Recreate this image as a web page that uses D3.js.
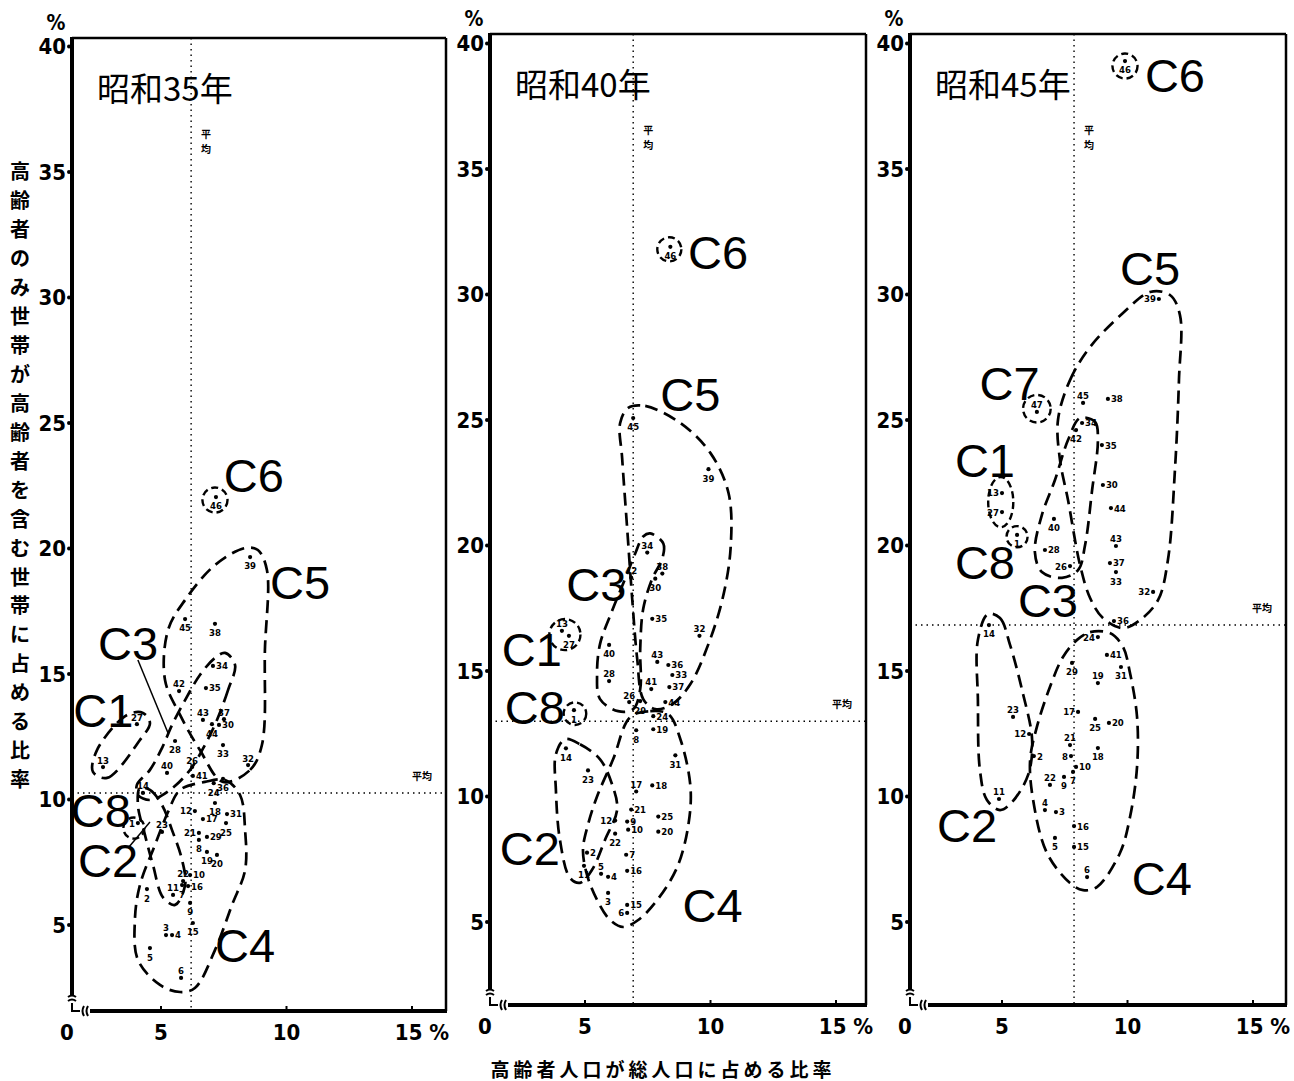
<!DOCTYPE html>
<html>
<head>
<meta charset="utf-8">
<script src="https://cdn.jsdelivr.net/npm/d3@7"></script>
<style>
  body { margin: 0; background: #fff; }
</style>
</head>
<body>
<svg id="chart" width="1294" height="1081"></svg>
<script>
// ---- data ----
const panelTitles = ["昭和35年", "昭和40年", "昭和45年"];
const avgX = [6.2, 6.92, 7.87];
const avgY = [10.26, 13.0, 16.83];
const yTicks = [5, 10, 15, 20, 25, 30, 35, 40];
const xTicks = [5, 10, 15];
const yTitle = "高齢者のみ世帯が高齢者を含む世帯に占める比率";
const xTitle = "高齢者人口が総人口に占める比率";

// [prefecture no., share of elderly in population %, share of elderly-only households %]
const pts1960 = [
  [1,4.08,9.06],[2,4.44,6.43],[3,5.2,4.6],[4,5.44,4.6],[5,4.56,4.08],[6,5.8,2.89],
  [7,5.84,6.59],[8,6.51,8.39],[9,6.16,5.88],[10,6.16,6.99],[11,5.48,6.2],[12,6.35,9.54],
  [13,2.69,11.29],[14,4.28,10.26],[15,6.27,5.08],[16,6.08,6.55],[17,6.67,9.22],[18,7.15,9.86],
  [19,6.83,7.91],[20,7.23,7.79],[21,6.51,8.67],[22,5.88,6.75],[23,5.04,8.71],[24,7.1,10.65],
  [25,7.59,9.06],[26,6.24,11.29],[27,4.04,13.0],[28,5.56,12.33],[29,6.83,8.51],[30,7.31,12.97],
  [31,7.63,9.42],[32,8.47,11.37],[33,7.47,12.17],[34,7.07,15.32],[35,6.79,14.44],[36,7.47,10.82],
  [37,7.51,13.2],[38,7.15,17.0],[39,8.55,19.66],[40,5.24,11.06],[41,6.27,10.94],[42,5.72,14.32],
  [43,6.67,13.17],[44,7.03,13.0],[45,5.96,17.19],[46,7.19,22.05]
];
const pts1965 = [
  [1,4.56,13.44],[2,5.08,7.76],[3,5.92,6.16],[4,5.92,6.8],[5,5.64,6.92],[6,6.68,5.36],
  [7,6.64,7.68],[8,7.04,12.64],[9,6.68,9.0],[10,6.72,8.68],[11,4.96,7.24],[12,6.2,9.04],
  [13,4.08,16.6],[14,4.24,11.92],[15,6.68,5.68],[16,6.68,7.04],[17,7.04,10.2],[18,7.68,10.44],
  [19,7.72,12.68],[20,7.92,8.6],[21,6.84,9.48],[22,6.2,8.52],[23,5.12,11.04],[24,7.72,13.2],
  [25,7.92,9.2],[26,6.76,13.76],[27,4.36,16.4],[28,5.96,14.6],[29,7.2,13.8],[30,7.8,18.68],
  [31,8.6,11.64],[32,9.56,16.4],[33,8.48,14.84],[34,7.48,19.72],[35,7.68,17.08],[36,8.32,15.24],
  [37,8.36,14.36],[38,8.08,18.88],[39,9.92,23.04],[40,5.96,16.04],[41,7.64,14.28],[42,6.84,18.72],
  [43,7.88,15.36],[44,8.2,13.76],[45,6.92,25.08],[46,8.4,31.9]
];
const pts1970 = [
  [1,5.6,20.42],[2,6.27,11.61],[3,7.15,9.38],[4,6.71,9.46],[5,7.11,8.35],[6,8.39,6.79],
  [7,7.83,10.98],[8,7.75,11.61],[9,7.47,10.78],[10,7.95,11.18],[11,4.88,9.9],[12,6.08,12.49],
  [13,5.0,22.09],[14,4.48,16.83],[15,7.87,7.99],[16,7.87,8.82],[17,8.03,13.37],[18,8.82,11.93],
  [19,8.82,14.52],[20,9.26,12.93],[21,7.71,12.05],[22,6.91,10.46],[23,5.44,13.17],[24,8.82,16.35],
  [25,8.71,13.09],[26,7.71,19.18],[27,5.0,21.33],[28,6.71,19.82],[29,7.79,15.32],[30,9.02,22.41],
  [31,9.74,15.16],[32,11.02,18.15],[33,9.54,18.94],[34,8.19,24.88],[35,8.98,24.0],[36,9.46,16.99],
  [37,9.3,19.3],[38,9.22,25.84],[39,11.25,29.82],[40,7.07,21.06],[41,9.18,15.64],[42,7.95,24.6],
  [43,9.54,19.98],[44,9.34,21.49],[45,8.23,25.68],[46,9.9,39.3],[47,6.39,25.32]
];

// cluster outlines traced in data units
const hulls1960 = [
  [[2.29,11.10],[2.85,10.86],[4.16,12.37],[4.56,13.05],[4.28,13.45],[3.65,13.37],[2.45,11.97]],
  [[4.16,10.46],[4.56,10.38],[5.04,9.78],[5.44,8.78],[5.84,7.59],[5.96,6.59],[5.56,5.8],[5.08,6.1],[4.68,7.39],[4.36,8.59],[4.08,9.78]],
  [[7.95,15.36],[7.67,14.36],[7.23,13.17],[6.75,12.17],[6.16,11.18],[5.36,10.38],[4.56,9.98],[4.08,10.18],[4.04,10.58],[4.56,11.18],[5.04,12.05],[5.44,12.97],[5.96,13.96],[6.55,14.96],[7.15,15.64],[7.55,15.84]],
  [[5.76,10.38],[6.75,10.70],[7.55,10.78],[8.15,10.18],[8.35,8.78],[8.35,7.19],[7.83,5.80],[7.15,4.0],[6.35,2.49],[5.76,2.33],[4.96,2.61],[4.08,3.61],[3.96,5.20],[4.16,6.59],[4.76,8.19],[5.28,9.50]],
  [[7.47,10.70],[8.55,11.18],[9.02,12.17],[9.14,15.96],[9.22,19.14],[8.86,19.94],[8.35,20.02],[7.15,19.34],[5.96,17.95],[5.28,16.75],[5.16,14.76],[5.76,13.37],[6.55,11.97]]
];
const hulls1965 = [
  [[6.72,25.48],[7.4,25.56],[8.8,24.88],[10.0,23.68],[10.72,22.08],[10.8,19.88],[10.48,17.88],[9.92,16.08],[9.2,14.48],[8.48,13.68],[7.8,13.48],[7.32,13.88],[7.08,15.48],[6.88,17.88],[6.68,20.68],[6.48,23.48],[6.4,24.88]],
  [[7.6,20.48],[8.12,20.08],[8.08,19.48],[7.68,18.68],[7.32,17.48],[7.2,15.88],[7.2,14.28],[6.92,13.48],[6.32,13.4],[5.6,13.88],[5.48,14.88],[5.6,16.08],[6.08,17.4],[6.6,18.68],[7.0,19.68],[7.32,20.36]],
  [[4.2,12.28],[4.8,12.08],[5.6,11.48],[6.08,10.48],[6.28,9.48],[5.8,8.28],[5.28,7.08],[4.8,6.56],[4.4,6.76],[4.0,8.28],[3.84,10.28],[3.84,11.68]],
  [[6.8,13.16],[7.6,13.4],[8.32,13.28],[8.8,12.28],[9.2,10.4],[9.12,8.88],[8.68,7.2],[7.88,5.88],[7.12,5.08],[6.52,4.8],[6.0,5.08],[5.48,5.88],[5.08,6.88],[4.92,7.88],[5.12,8.88],[5.48,10.0],[6.12,11.48]]
];
const hulls1970 = [
  [[7.23,25.0],[7.71,26.59],[8.51,27.91],[9.82,29.26],[10.9,30.1],[11.69,29.98],[12.09,29.18],[12.05,26.59],[11.89,23.01],[11.61,19.42],[11.22,17.83],[10.5,17.03],[9.82,16.71],[9.02,17.11],[8.51,17.91],[8.11,19.22],[7.63,21.81],[7.31,23.41]],
  [[8.11,25.08],[8.71,24.92],[8.82,24.2],[8.59,22.21],[8.31,20.02],[8.03,19.02],[7.39,18.71],[6.59,18.94],[6.31,19.74],[6.59,21.22],[7.11,22.61],[7.63,24.2]],
  [[4.44,17.27],[4.92,17.11],[5.32,16.04],[5.8,14.24],[6.2,12.25],[6.04,10.86],[5.4,9.78],[4.92,9.46],[4.4,9.86],[4.12,11.06],[4.04,13.84],[4.04,16.24]],
  [[7.99,16.24],[8.51,16.55],[9.3,16.51],[9.82,15.96],[10.1,14.92],[10.38,13.17],[10.38,11.18],[10.1,9.18],[9.7,7.75],[8.78,6.39],[8.23,6.27],[7.71,6.55],[6.79,7.75],[6.24,9.86],[6.12,11.45],[6.39,12.77],[6.91,14.36],[7.43,15.56]]
];

// small clusters drawn as rings: [cx, cy, rx, ry]
const rings1960 = [[7.15,21.93,0.5,0.5],[3.92,8.86,0.42,0.42]];
const rings1965 = [[4.2,16.45,0.62,0.62],[4.6,13.3,0.45,0.45],[8.36,31.8,0.48,0.48]];
const rings1970 = [[9.9,39.1,0.5,0.5],[6.39,25.45,0.55,0.55],[4.95,21.73,0.5,1.0],[5.6,20.35,0.42,0.42]];

const clusters1960 = [["C1",2.7,13.55],["C3",3.69,16.24],["C8",2.6,9.58],["C2",2.89,7.59],["C4",8.35,4.2],["C5",10.54,18.67],["C6",8.7,22.93]];
const clusters1965 = [["C5",9.2,26.04],["C6",10.3,31.68],["C3",5.45,18.48],["C1",2.88,15.88],["C8",3.0,13.56],["C2",2.8,7.96],["C4",10.08,5.68]];
const clusters1970 = [["C6",11.89,38.75],["C5",10.9,31.06],["C7",5.3,26.47],["C1",4.32,23.41],["C8",4.32,19.34],["C3",6.83,17.83],["C2",3.61,8.86],["C4",11.37,6.75]];

const leaders1960 = [[[4.08,15.56],[5.28,12.65]], [[3.69,8.07],[4.56,9.1]]];

// where each point number sits relative to its dot (default below)
const sides = [
  "34r 42a 35r 43a 37a 30r 26a 41r 32a 40a 14a 13a 27a 12l 17r 31r 21l 29r 23a 1l 22a 10r 16r 11a 3a 4r 6a",
  "34a 42a 38a 35r 32a 13a 43a 36r 33r 37r 44r 24r 19r 12l 9r 10r 20r 25r 18r 17a 21r 2r 7r 5a 4r 16r 15r 6l 26a 41a 28a",
  "38r 45a 34r 35r 30r 44r 13l 27l 43a 28r 37r 26l 32l 36r 39l 47a 24l 41r 19a 23a 17l 20r 12l 21a 2r 8l 10r 22a 11a 4a 3r 16r 15r 6a"
].map(s => new Map(s.split(" ").map(t => [+t.slice(0, -1), t.slice(-1)])));

// ---- layout ----
const panels = [
  {pts: pts1960, hulls: hulls1960, rings: rings1960, clusters: clusters1960, leaders: leaders1960, x5: 161, y5: 925, left: 72, right: 446, top: 38, bottom: 1011},
  {pts: pts1965, hulls: hulls1965, rings: rings1965, clusters: clusters1965, leaders: [], x5: 585, y5: 922, left: 490, right: 866, top: 34, bottom: 1005},
  {pts: pts1970, hulls: hulls1970, rings: rings1970, clusters: clusters1970, leaders: [], x5: 1002, y5: 922, left: 910, right: 1286, top: 34, bottom: 1005}
];

const svg = d3.select("#chart");
const numFont = "'Liberation Sans Narrow', 'DejaVu Sans Condensed', sans-serif";
const jpFont = "'Noto Sans CJK JP', sans-serif";

panels.forEach((p, i) => {
  var x = d3.scaleLinear().domain([5, 15]).range([p.x5, p.x5 + 251]);
  var y = d3.scaleLinear().domain([5, 40]).range([p.y5, p.y5 - 878.5]);
  var g = svg.append("g");

  // frame with axis breaks
  g.append("line").attr("x1", p.left).attr("x2", p.right).attr("y1", p.top).attr("y2", p.top)
    .attr("stroke", "#000").attr("stroke-width", 2.5);
  g.append("line").attr("x1", p.right).attr("x2", p.right).attr("y1", p.top).attr("y2", p.bottom)
    .attr("stroke", "#000").attr("stroke-width", 2.5);
  g.append("line").attr("x1", p.left).attr("x2", p.left).attr("y1", p.top - 1).attr("y2", p.bottom - 16)
    .attr("stroke", "#000").attr("stroke-width", 4);
  g.append("line").attr("x1", p.left + 18).attr("x2", p.right + 1).attr("y1", p.bottom).attr("y2", p.bottom)
    .attr("stroke", "#000").attr("stroke-width", 4);
  var brk = d3.path();
  brk.moveTo(p.left - 4, p.bottom - 14); brk.quadraticCurveTo(p.left, p.bottom - 17, p.left + 4, p.bottom - 14);
  brk.moveTo(p.left - 4, p.bottom - 10); brk.quadraticCurveTo(p.left, p.bottom - 13, p.left + 4, p.bottom - 10);
  brk.moveTo(p.left, p.bottom - 8); brk.lineTo(p.left, p.bottom); brk.lineTo(p.left + 8, p.bottom);
  brk.moveTo(p.left + 12, p.bottom - 5); brk.quadraticCurveTo(p.left + 9, p.bottom, p.left + 12, p.bottom + 5);
  brk.moveTo(p.left + 16, p.bottom - 5); brk.quadraticCurveTo(p.left + 13, p.bottom, p.left + 16, p.bottom + 5);
  g.append("path").attr("d", brk.toString()).attr("fill", "none").attr("stroke", "#000").attr("stroke-width", 2);

  // average lines
  g.append("line").attr("x1", x(avgX[i])).attr("x2", x(avgX[i])).attr("y1", p.top).attr("y2", p.bottom)
    .attr("stroke", "#000").attr("stroke-width", 1.4).attr("stroke-dasharray", "1.5,4");
  g.append("line").attr("x1", p.left).attr("x2", p.right).attr("y1", y(avgY[i])).attr("y2", y(avgY[i]))
    .attr("stroke", "#000").attr("stroke-width", 1.4).attr("stroke-dasharray", "1.5,4");
  g.append("text").attr("x", p.right - 24).attr("y", y(avgY[i]) - 13)
    .attr("text-anchor", "middle").attr("font-family", jpFont).attr("font-weight", "bold")
    .attr("font-size", 10).text("平均");
  ["平", "均"].forEach((c, k) => {
    g.append("text").attr("x", x(avgX[i]) + 15).attr("y", p.top + 100 + k * 15)
      .attr("text-anchor", "middle").attr("font-family", jpFont).attr("font-weight", "bold")
      .attr("font-size", 10).text(c);
  });

  // y ticks
  yTicks.forEach(t => {
    g.append("circle").attr("cx", p.left - 3).attr("cy", y(t)).attr("r", 2).attr("fill", "#000");
    g.append("text").attr("x", p.left - 6).attr("y", y(t)).attr("dy", "0.36em")
      .attr("text-anchor", "end").attr("font-family", numFont).attr("font-weight", "bold")
      .attr("font-size", 22).text(t);
  });
  g.append("text").attr("x", p.left - 16).attr("y", p.top - 8)
    .attr("text-anchor", "middle").attr("font-family", numFont).attr("font-weight", "bold")
    .attr("font-size", 21).text("%");

  // x ticks
  xTicks.forEach(t => {
    g.append("line").attr("x1", x(t)).attr("x2", x(t)).attr("y1", p.bottom - 5).attr("y2", p.bottom)
      .attr("stroke", "#000").attr("stroke-width", 2);
    g.append("text").attr("x", x(t)).attr("y", p.bottom + 29)
      .attr("text-anchor", "middle").attr("font-family", numFont).attr("font-weight", "bold")
      .attr("font-size", 22).text(t === 15 ? "15 %" : t).attr("dx", t === 15 ? 10 : 0);
  });
  g.append("text").attr("x", p.left - 5).attr("y", p.bottom + 29)
    .attr("text-anchor", "middle").attr("font-family", numFont).attr("font-weight", "bold")
    .attr("font-size", 22).text("0");

  // title
  g.append("text").attr("x", p.left + 25).attr("y", p.top + 63)
    .attr("font-family", jpFont).attr("font-size", 33).text(panelTitles[i]);

  // cluster outlines
  var outline = d3.line().x(d => x(d[0])).y(d => y(d[1])).curve(d3.curveCatmullRomClosed.alpha(0.5));
  g.selectAll(".hull").data(p.hulls).enter().append("path")
    .attr("d", outline).attr("fill", "none").attr("stroke", "#000")
    .attr("stroke-width", 2.7).attr("stroke-dasharray", "13,7");
  g.selectAll(".ring").data(p.rings).enter().append("ellipse")
    .attr("cx", d => x(d[0])).attr("cy", d => y(d[1]))
    .attr("rx", d => x(d[0] + d[2]) - x(d[0])).attr("ry", d => y(d[1]) - y(d[1] + d[3]))
    .attr("fill", "none").attr("stroke", "#000").attr("stroke-width", 2.4).attr("stroke-dasharray", "7,4");
  g.selectAll(".leader").data(p.leaders).enter().append("line")
    .attr("x1", d => x(d[0][0])).attr("y1", d => y(d[0][1]))
    .attr("x2", d => x(d[1][0])).attr("y2", d => y(d[1][1]))
    .attr("stroke", "#000").attr("stroke-width", 1.5);
  g.selectAll(".clab").data(p.clusters).enter().append("text")
    .attr("x", d => x(d[1])).attr("y", d => y(d[2])).attr("dy", "0.36em")
    .attr("text-anchor", "middle").attr("font-family", "'Liberation Sans', Arial, sans-serif")
    .attr("font-size", 47).text(d => d[0]);

  // prefecture points
  var side = sides[i];
  var node = g.selectAll(".pt").data(p.pts).enter().append("g");
  node.append("circle").attr("cx", d => x(d[1])).attr("cy", d => y(d[2])).attr("r", 2.1).attr("fill", "#000");
  node.append("text")
    .attr("x", d => {
      var s = side.get(d[0]) || "b";
      return x(d[1]) + (s === "r" ? 3 : s === "l" ? -3 : 0);
    })
    .attr("y", d => {
      var s = side.get(d[0]) || "b";
      return y(d[2]) + (s === "a" ? -7 : s === "b" ? 9 : 0);
    })
    .attr("dy", "0.36em")
    .attr("text-anchor", d => {
      var s = side.get(d[0]) || "b";
      return s === "r" ? "start" : s === "l" ? "end" : "middle";
    })
    .attr("font-family", "'DejaVu Sans Condensed', sans-serif").attr("font-weight", "bold")
    .attr("font-size", 9.5).text(d => d[0]);
});

// shared axis titles
svg.append("g").selectAll("text").data(Array.from(yTitle)).enter().append("text")
  .attr("x", 20).attr("y", (d, k) => 172 + k * 28.95).attr("dy", "0.36em")
  .attr("text-anchor", "middle").attr("font-family", jpFont).attr("font-weight", "bold")
  .attr("font-size", 20).text(d => d);
svg.append("text").attr("x", 663).attr("y", 1077)
  .attr("text-anchor", "middle").attr("font-family", jpFont).attr("font-weight", "bold")
  .attr("font-size", 19).attr("letter-spacing", 4).text(xTitle);
</script>
</body>
</html>
